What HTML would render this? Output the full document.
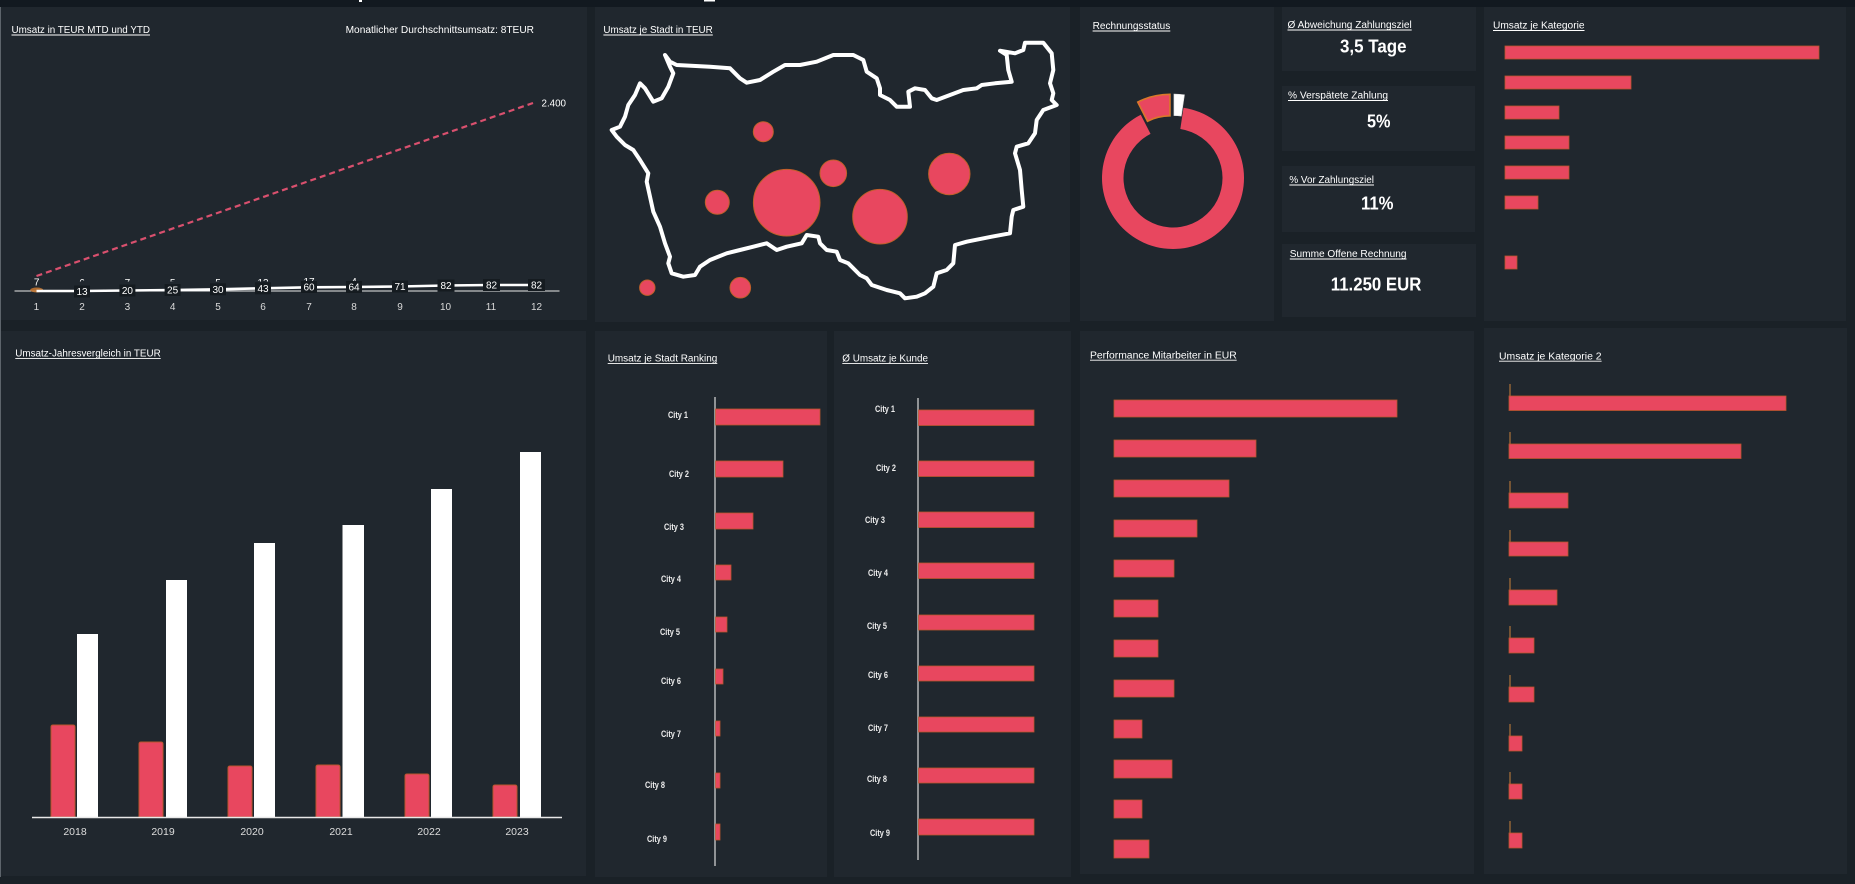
<!DOCTYPE html>
<html><head><meta charset="utf-8"><style>
html,body{margin:0;padding:0;background:#1a2127;}
svg{display:block;}
text{font-family:"Liberation Sans",sans-serif;}
</style></head><body>
<svg width="1855" height="884" viewBox="0 0 1855 884" xmlns="http://www.w3.org/2000/svg">
<rect x="0" y="0" width="1855" height="884" fill="#1a2127"/>
<rect x="0" y="0" width="1855" height="7" fill="#121920"/>
<rect x="359" y="0" width="3" height="2" fill="#fff"/>
<rect x="704" y="0" width="11" height="1.5" fill="#fff"/>
<rect x="0" y="7" width="1" height="870" fill="#5d646b"/>

<!-- panels -->
<g fill="#20272e">
<rect x="1" y="7" width="586" height="313"/>
<rect x="595" y="7" width="475" height="315"/>
<rect x="1080" y="7" width="194" height="314"/>
<rect x="1282" y="7" width="194" height="64"/>
<rect x="1282" y="86" width="193" height="65"/>
<rect x="1282" y="166" width="193" height="66"/>
<rect x="1282" y="244" width="194" height="73"/>
<rect x="1484" y="7" width="362" height="314"/>
<rect x="1" y="331" width="585" height="545"/>
<rect x="595" y="331" width="232" height="546"/>
<rect x="834" y="331" width="237" height="546"/>
<rect x="1080" y="331" width="394" height="543"/>
<rect x="1484" y="328" width="363" height="546"/>
</g>

<!-- titles -->
<g fill="#ffffff" font-size="10">
<text x="11.5" y="33" textLength="138.5" lengthAdjust="spacingAndGlyphs">Umsatz in TEUR MTD und YTD</text>
<text x="345.6" y="33" textLength="188.4" lengthAdjust="spacingAndGlyphs">Monatlicher Durchschnittsumsatz: 8TEUR</text>
<text x="603.4" y="33" textLength="109.4" lengthAdjust="spacingAndGlyphs">Umsatz je Stadt in TEUR</text>
<text x="1092.6" y="29" textLength="77.7" lengthAdjust="spacingAndGlyphs">Rechnungsstatus</text>
<text x="1287.5" y="28" textLength="124.2" lengthAdjust="spacingAndGlyphs">Ø Abweichung Zahlungsziel</text>
<text x="1288" y="98.5" textLength="100" lengthAdjust="spacingAndGlyphs">% Verspätete Zahlung</text>
<text x="1289.4" y="183" textLength="84.6" lengthAdjust="spacingAndGlyphs">% Vor Zahlungsziel</text>
<text x="1289.8" y="257" textLength="116.7" lengthAdjust="spacingAndGlyphs">Summe Offene Rechnung</text>
<text x="1493" y="28.5" textLength="91.5" lengthAdjust="spacingAndGlyphs">Umsatz je Kategorie</text>
<text x="15.3" y="356.5" textLength="145.4" lengthAdjust="spacingAndGlyphs">Umsatz-Jahresvergleich in TEUR</text>
<text x="607.7" y="361.5" textLength="109.6" lengthAdjust="spacingAndGlyphs">Umsatz je Stadt Ranking</text>
<text x="842.3" y="361.5" textLength="85.7" lengthAdjust="spacingAndGlyphs">Ø Umsatz je Kunde</text>
<text x="1090" y="358.3" textLength="146.7" lengthAdjust="spacingAndGlyphs">Performance Mitarbeiter in EUR</text>
<text x="1499" y="359.3" textLength="102.6" lengthAdjust="spacingAndGlyphs">Umsatz je  Kategorie 2</text>
</g>
<g stroke="#ffffff" stroke-width="0.9">
<line x1="11.5" y1="35" x2="150" y2="35"/>
<line x1="603.4" y1="35" x2="712.8" y2="35"/>
<line x1="1092.6" y1="31" x2="1170.3" y2="31"/>
<line x1="1287.5" y1="30" x2="1411.7" y2="30"/>
<line x1="1288" y1="100.5" x2="1388" y2="100.5"/>
<line x1="1289.4" y1="185" x2="1374" y2="185"/>
<line x1="1289.8" y1="259" x2="1406.5" y2="259"/>
<line x1="1493" y1="30.5" x2="1584.5" y2="30.5"/>
<line x1="15.3" y1="358.4" x2="160.7" y2="358.4"/>
<line x1="607.7" y1="363.4" x2="717.3" y2="363.4"/>
<line x1="842.3" y1="363.4" x2="928" y2="363.4"/>
<line x1="1090" y1="360.2" x2="1236.7" y2="360.2"/>
<line x1="1499" y1="361.2" x2="1601.6" y2="361.2"/>
</g>

<!-- KPI values -->
<g fill="#ffffff" font-weight="bold" font-size="18">
<text x="1340" y="52.7" textLength="66.5" lengthAdjust="spacingAndGlyphs">3,5 Tage</text>
<text x="1367" y="127.3" textLength="23.5" lengthAdjust="spacingAndGlyphs">5%</text>
<text x="1361" y="209.3" textLength="32.5" lengthAdjust="spacingAndGlyphs">11%</text>
<text x="1330.8" y="290.7" textLength="90.6" lengthAdjust="spacingAndGlyphs">11.250 EUR</text>
</g>

<!-- Top-left line chart -->
<line x1="14.5" y1="291" x2="559.5" y2="291" stroke="#e8e8e8" stroke-width="1"/>
<line x1="36.5" y1="276" x2="533" y2="103" stroke="#d9506e" stroke-width="2.2" stroke-dasharray="6 4"/>
<text x="541.5" y="106.5" font-size="10" fill="#fff" textLength="24.5" lengthAdjust="spacingAndGlyphs">2.400</text>
<ellipse cx="36.7" cy="290" rx="6.5" ry="2.5" fill="#c8782f" opacity="0.85"/>
<polyline fill="none" stroke="#ffffff" stroke-width="2.6" points="36.5,291 82,291 127.4,290.5 172.6,290 218,289.3 263,288.3 309,287.3 354,287 400,286.5 445.5,285.5 491,285 536.5,285"/>
<defs><clipPath id="cl"><rect x="60" y="270" width="320" height="11.5"/></clipPath></defs>
<g font-size="10" fill="#ffffff" text-anchor="middle">
<text x="36.7" y="285.5">7</text>
<g clip-path="url(#cl)">
<text x="82" y="286">6</text><text x="127.4" y="286">7</text><text x="172.6" y="286">5</text><text x="218" y="286">5</text><text x="263" y="286">13</text><text x="309" y="285">17</text><text x="354" y="285">4</text>
</g>
</g>
<g fill="#151b20">
<rect x="74" y="285.5" width="16" height="12"/>
<rect x="119.4" y="284.5" width="16" height="12"/>
<rect x="164.6" y="284" width="16" height="12"/>
<rect x="210" y="283.3" width="16" height="12"/>
<rect x="255" y="282.3" width="16" height="12"/>
<rect x="301" y="281" width="16" height="12"/>
<rect x="346" y="281" width="16" height="12"/>
<rect x="392" y="280.5" width="16" height="12"/>
<rect x="437.5" y="279.5" width="17" height="12"/>
<rect x="483" y="279" width="17" height="12"/>
<rect x="528" y="279" width="17" height="12"/>
</g>
<g font-size="10" fill="#ffffff" text-anchor="middle">
<text x="82" y="295">13</text><text x="127.4" y="294">20</text><text x="172.6" y="293.5">25</text><text x="218" y="292.8">30</text><text x="263" y="291.8">43</text><text x="309" y="290.5">60</text><text x="354" y="290.5">64</text><text x="400" y="290">71</text><text x="446" y="289">82</text><text x="491.5" y="288.5">82</text><text x="536.5" y="288.5">82</text>
</g>
<g font-size="10" fill="#d9d9d9" text-anchor="middle">
<text x="36.4" y="310">1</text><text x="82" y="310">2</text><text x="127.4" y="310">3</text><text x="172.6" y="310">4</text><text x="218" y="310">5</text><text x="263" y="310">6</text><text x="309" y="310">7</text><text x="354" y="310">8</text><text x="400" y="310">9</text><text x="445.5" y="310">10</text><text x="491" y="310">11</text><text x="536.5" y="310">12</text>
</g>

<!-- Map -->
<polygon fill="none" stroke="#ffffff" stroke-width="4" stroke-linejoin="round" points="665,55 670,61.7 676.7,65 710,66.7 730,68.3 740,78.3 746.7,82.7 760,80 773.3,71.7 785,65 800,65 816.7,61.7 833.3,55 853.3,55 863.3,60 866.7,71.7 876.7,78.3 880,88.3 880,95 890,100 896.7,106.7 910,106.7 908.3,91.7 915,88.3 925,90 931.7,98.3 936.7,100 950,95 963.3,90 976.7,88.3 981.7,85 995,83.3 1011.7,81.7 1008.3,70 1006.7,55 1000,50.7 1015,53.3 1023.3,50 1025,42.7 1043.3,42.7 1051.7,53.3 1053.3,70 1050,83.3 1053.3,93.3 1051.7,100 1056.7,105 1043.3,110 1036.7,120 1035,133.3 1028.3,143.3 1016.7,146.7 1015,153.3 1020,170 1021.7,190 1023.3,206.7 1013.3,210 1011.7,216.7 1010,233.3 991.7,236.7 966.7,241.7 955,245 953.3,263.3 946.7,270 936.7,273.3 933.3,286.7 925,293.3 916.7,296.7 905,298.3 900,293.3 886.7,290 871.7,285 866.7,278.3 860,275 848.3,263.3 840,260 836.7,251.7 826.7,250 820,243.3 818.3,236.7 806.7,235 801.7,243.3 786.7,246.7 776.7,250 766.7,243.3 753.3,246.7 740,250 726.7,253.3 710,260 700,266.7 695,275 683.3,276.7 671.7,273.3 668.3,263.3 670,256.7 665,243.3 660,226.7 653.3,211.7 650,196.7 646.7,181.7 648.3,173.3 640,160 633.3,150 625,145 616.7,136.7 611.7,130 620,126.7 625,116.7 628.3,105 635,95 640,83.3 645,88.3 653.3,101.7 661.7,98.3 668.3,86.7 673.3,73.3 670,66.7"/>
<g fill="#e8475f" stroke="#c0602a" stroke-width="1">
<circle cx="763.3" cy="131.7" r="10"/>
<circle cx="833.3" cy="173.3" r="13.3"/>
<circle cx="717.3" cy="202.3" r="12"/>
<circle cx="786.7" cy="202.7" r="33.3"/>
<circle cx="880" cy="216.7" r="27.3"/>
<circle cx="949.3" cy="174" r="20.7"/>
<circle cx="647.3" cy="287.7" r="7.7"/>
<circle cx="740.3" cy="287.7" r="10.3"/>
</g>

<!-- Donut -->
<path d="M 1183.49 107.78 A 71 71 0 1 1 1140.77 114.74 L 1150.53 133.90 A 49.5 49.5 0 1 0 1180.32 129.04 Z" fill="#e8475f"/>
<path d="M 1137.74 102.10 A 71 71 0 0 1 1169.97 94.36 L 1169.97 115.86 A 49.5 49.5 0 0 0 1147.50 121.26 Z" fill="#e8475f" stroke="#d9782a" stroke-width="1.6"/>
<path d="M 1173.96 94.04 A 71 71 0 0 1 1184.45 94.82 L 1181.28 116.08 A 49.5 49.5 0 0 0 1173.96 115.54 Z" fill="#ffffff" stroke="#dddddd" stroke-width="0.6"/>

<!-- Umsatz je Kategorie -->
<g fill="#e8475f" stroke="#b8562c" stroke-width="0.8">
<rect x="1505" y="46" width="314" height="13"/>
<rect x="1505" y="76" width="126" height="13"/>
<rect x="1505" y="106" width="54" height="13"/>
<rect x="1505" y="136" width="64" height="13"/>
<rect x="1505" y="166" width="64" height="13"/>
<rect x="1505" y="196" width="33" height="13"/>
<rect x="1505" y="256" width="12" height="13"/>
</g>

<!-- Jahresvergleich -->
<g fill="#e8475f" stroke="#b8562c" stroke-width="1">
<path d="M51,817 V727 Q51,725 53,725 H73 Q75,725 75,727 V817 Z"/>
<path d="M139,817 V744 Q139,742 141,742 H161 Q163,742 163,744 V817 Z"/>
<path d="M228,817 V768 Q228,766 230,766 H250 Q252,766 252,768 V817 Z"/>
<path d="M316,817 V767 Q316,765 318,765 H338 Q340,765 340,767 V817 Z"/>
<path d="M405,817 V776 Q405,774 407,774 H427 Q429,774 429,776 V817 Z"/>
<path d="M493,817 V787 Q493,785 495,785 H515 Q517,785 517,787 V817 Z"/>
</g>
<g fill="#ffffff">
<rect x="77" y="634" width="21" height="183"/>
<rect x="166" y="580" width="21" height="237"/>
<rect x="254" y="543" width="21" height="274"/>
<rect x="342.5" y="525" width="21.5" height="292"/>
<rect x="431" y="489" width="21" height="328"/>
<rect x="520" y="452" width="21" height="365"/>
</g>
<line x1="32" y1="817.5" x2="562" y2="817.5" stroke="#e8e8e8" stroke-width="1.4"/>
<g font-size="10.5" fill="#dddddd" text-anchor="middle">
<text x="75" y="835">2018</text><text x="163" y="835">2019</text><text x="252" y="835">2020</text><text x="341" y="835">2021</text><text x="429" y="835">2022</text><text x="517" y="835">2023</text>
</g>

<!-- Stadt Ranking -->
<line x1="715" y1="397" x2="715" y2="866" stroke="#ffffff" stroke-width="1"/>
<g fill="#e8475f" stroke="#b8562c" stroke-width="0.8">
<rect x="715.5" y="409" width="104.5" height="16"/>
<rect x="715.5" y="461" width="67.5" height="16"/>
<rect x="715.5" y="513" width="37.5" height="16"/>
<rect x="715.5" y="565" width="15.5" height="15"/>
<rect x="715.5" y="617" width="11.5" height="15"/>
<rect x="715.5" y="669" width="7.5" height="15"/>
<rect x="715.5" y="721" width="4.5" height="15"/>
<rect x="715.5" y="773" width="4.5" height="15"/>
<rect x="715.5" y="824" width="4.5" height="16"/>
</g>
<g font-size="9" fill="#eeeeee" font-weight="bold">
<text x="668" y="418" textLength="20" lengthAdjust="spacingAndGlyphs">City 1</text>
<text x="669" y="477" textLength="20" lengthAdjust="spacingAndGlyphs">City 2</text>
<text x="664" y="530" textLength="20" lengthAdjust="spacingAndGlyphs">City 3</text>
<text x="661" y="582" textLength="20" lengthAdjust="spacingAndGlyphs">City 4</text>
<text x="660" y="635" textLength="20" lengthAdjust="spacingAndGlyphs">City 5</text>
<text x="661" y="684" textLength="20" lengthAdjust="spacingAndGlyphs">City 6</text>
<text x="661" y="737" textLength="20" lengthAdjust="spacingAndGlyphs">City 7</text>
<text x="645" y="788" textLength="20" lengthAdjust="spacingAndGlyphs">City 8</text>
<text x="647" y="842" textLength="20" lengthAdjust="spacingAndGlyphs">City 9</text>
</g>

<!-- Umsatz je Kunde -->
<line x1="918" y1="398" x2="918" y2="860" stroke="#ffffff" stroke-width="1"/>
<g fill="#e8475f" stroke="#b8562c" stroke-width="0.8">
<rect x="918.5" y="410" width="115.5" height="15.5"/>
<rect x="918.5" y="461" width="115.5" height="15.5"/>
<rect x="918.5" y="512" width="115.5" height="15.5"/>
<rect x="918.5" y="563" width="115.5" height="15.5"/>
<rect x="918.5" y="615" width="115.5" height="15"/>
<rect x="918.5" y="666" width="115.5" height="15"/>
<rect x="918.5" y="717" width="115.5" height="15"/>
<rect x="918.5" y="768" width="115.5" height="15"/>
<rect x="918.5" y="819" width="115.5" height="16"/>
</g>
<g font-size="9" fill="#eeeeee" font-weight="bold">
<text x="875" y="412" textLength="20" lengthAdjust="spacingAndGlyphs">City 1</text>
<text x="876" y="471" textLength="20" lengthAdjust="spacingAndGlyphs">City 2</text>
<text x="865" y="523" textLength="20" lengthAdjust="spacingAndGlyphs">City 3</text>
<text x="868" y="576" textLength="20" lengthAdjust="spacingAndGlyphs">City 4</text>
<text x="867" y="629" textLength="20" lengthAdjust="spacingAndGlyphs">City 5</text>
<text x="868" y="678" textLength="20" lengthAdjust="spacingAndGlyphs">City 6</text>
<text x="868" y="731" textLength="20" lengthAdjust="spacingAndGlyphs">City 7</text>
<text x="867" y="782" textLength="20" lengthAdjust="spacingAndGlyphs">City 8</text>
<text x="870" y="836" textLength="20" lengthAdjust="spacingAndGlyphs">City 9</text>
</g>

<!-- Performance Mitarbeiter -->
<g fill="#e8475f" stroke="#b8562c" stroke-width="0.8">
<rect x="1114" y="400" width="283" height="17"/>
<rect x="1114" y="440" width="142" height="17"/>
<rect x="1114" y="480" width="115" height="17"/>
<rect x="1114" y="520" width="83" height="17"/>
<rect x="1114" y="560" width="60" height="17"/>
<rect x="1114" y="600" width="44" height="17"/>
<rect x="1114" y="640" width="44" height="17"/>
<rect x="1114" y="680" width="60" height="17"/>
<rect x="1114" y="720" width="28" height="18"/>
<rect x="1114" y="760" width="58" height="18"/>
<rect x="1114" y="800" width="28" height="18"/>
<rect x="1114" y="840" width="35" height="18"/>
</g>

<!-- Umsatz je Kategorie 2 -->
<g stroke="#c8823a" stroke-width="1">
<line x1="1510" y1="384" x2="1510" y2="396"/>
<line x1="1510" y1="432" x2="1510" y2="444"/>
<line x1="1510" y1="481" x2="1510" y2="493"/>
<line x1="1510" y1="530" x2="1510" y2="542"/>
<line x1="1510" y1="578" x2="1510" y2="590"/>
<line x1="1510" y1="626" x2="1510" y2="638"/>
<line x1="1510" y1="675" x2="1510" y2="687"/>
<line x1="1510" y1="724" x2="1510" y2="736"/>
<line x1="1510" y1="772" x2="1510" y2="784"/>
<line x1="1510" y1="821" x2="1510" y2="833"/>
</g>
<g fill="#e8475f" stroke="#b8562c" stroke-width="0.8">
<rect x="1509" y="396" width="277" height="14.5"/>
<rect x="1509" y="444" width="232" height="14.5"/>
<rect x="1509" y="493" width="59" height="15"/>
<rect x="1509" y="542" width="59" height="14"/>
<rect x="1509" y="590" width="48" height="15"/>
<rect x="1509" y="638" width="25" height="15"/>
<rect x="1509" y="687" width="25" height="15"/>
<rect x="1509" y="736" width="13" height="15"/>
<rect x="1509" y="784" width="13" height="15"/>
<rect x="1509" y="833" width="13" height="15"/>
</g>
</svg>
</body></html>
